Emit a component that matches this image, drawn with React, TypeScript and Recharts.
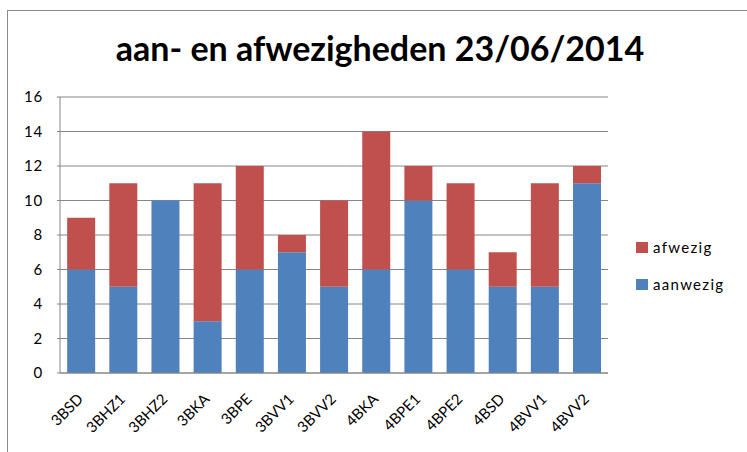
import React from "react";
import { BarChart, Bar, XAxis, YAxis, CartesianGrid } from "recharts";

const klassen = ["3BSD", "3BHZ1", "3BHZ2", "3BKA", "3BPE", "3BVV1", "3BVV2", "4BKA", "4BPE1", "4BPE2", "4BSD", "4BVV1", "4BVV2"];
const aanwezig = [6, 5, 10, 3, 6, 7, 5, 6, 10, 6, 5, 5, 11];
const afwezig = [3, 6, 0, 8, 6, 1, 5, 8, 2, 5, 2, 6, 1];
const yTicks = [0, 2, 4, 6, 8, 10, 12, 14, 16];

const BLUE = "#4F81BD";
const RED = "#C0504D";
const GRID = "#868686";
const FONT = "Lato, 'Open Sans', sans-serif";

const data = klassen.map((k, i) => ({ klas: k, aanwezig: aanwezig[i], afwezig: afwezig[i] }));

const XTick = ({ x, y, payload }: any) => (
  <text
    transform={`translate(${x + 3},${y + 19}) rotate(-45)`}
    textAnchor="end"
    fontSize={15}
    fontFamily={FONT}
    fill="#000"
  >
    {payload.value}
  </text>
);

const LegendBox = () => (
  <div style={{ position: "absolute", left: 636, top: 238, fontFamily: FONT, fontSize: 15, color: "#000" }}>
    {[
      { name: "afwezig", color: RED },
      { name: "aanwezig", color: BLUE },
    ].map((it, i) => (
      <div key={it.name} style={{ display: "flex", alignItems: "center", marginTop: i ? 19 : 0 }}>
        <span style={{ width: 12, height: 11, background: it.color, marginRight: 5, display: "inline-block" }} />
        <span style={{ letterSpacing: 1.3 }}>{it.name}</span>
      </div>
    ))}
  </div>
);

export default function App() {
  return (
    <div style={{ position: "absolute", left: 0, top: 0, width: 747, height: 452, overflow: "hidden", background: "#fff" }}>
      <div
        style={{
          position: "absolute",
          left: 7,
          top: 10,
          width: 800,
          height: 500,
          borderLeft: "1px solid #8c8c8c",
          borderTop: "1px solid #8c8c8c",
        }}
      />
      <div
        style={{
          position: "absolute",
          left: 0,
          top: 27,
          width: 760,
          textAlign: "center",
          fontFamily: FONT,
          fontSize: 34,
          fontWeight: 700,
          color: "#000",
        }}
      >
        aan- en afwezigheden 23/06/2014
      </div>
      <div style={{ position: "absolute", left: 0, top: 0 }}>
        <BarChart
          width={747}
          height={452}
          data={data}
          margin={{ top: 97, right: 139, bottom: 0, left: 0 }}
          barCategoryGap="17%"
        >
          <CartesianGrid vertical={false} stroke={GRID} />
          <XAxis
            dataKey="klas"
            tick={<XTick />}
            tickLine={false}
            axisLine={{ stroke: GRID }}
            interval={0}
            height={79}
          />
          <YAxis
            domain={[0, 16]}
            ticks={yTicks}
            width={60}
            tickSize={3}
            tickLine={{ stroke: GRID }}
            axisLine={{ stroke: GRID }}
            tickMargin={14}
            tick={{ fontSize: 15, fontFamily: FONT, fill: "#000", letterSpacing: 0.8 }}
          />
          <Bar dataKey="aanwezig" stackId="a" fill={BLUE} isAnimationActive={false} />
          <Bar dataKey="afwezig" stackId="a" fill={RED} isAnimationActive={false} />
        </BarChart>
      </div>
      <LegendBox />
    </div>
  );
}
